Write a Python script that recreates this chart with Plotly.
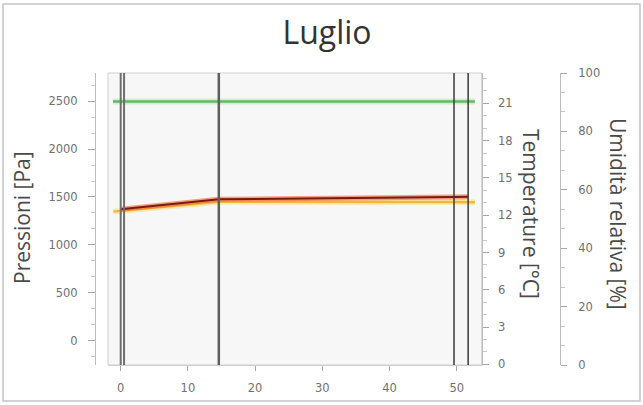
import plotly.graph_objects as go

# ---------------- data ----------------
title_text = "Luglio"
layer_bounds = [0.0, 0.5, 14.6, 49.6, 51.7]          # layer interfaces (cm)
layer_colors = ["#6e6e6e", "#6e6e6e", "#5e5e5e", "#3a3a3a", "#3a3a3a"]
layer_widths = [2, 2, 2.5, 1.5, 1.5]

green_x = [-1.15, 0.0, 14.6, 49.6, 51.7, 52.7]
green_y = [2497, 2497, 2497, 2497, 2497, 2497]       # Pa

red_x = [0.0, 14.6, 49.6, 51.7]
red_y = [1372, 1476, 1500, 1503]                     # Pa

yellow_x = [-1.1, 0.0, 14.6, 49.6, 51.7, 52.7]
yellow_y = [1347, 1354, 1451, 1447, 1446, 1445]      # Pa

x_ticks = [0, 10, 20, 30, 40, 50]
pa_ticks = [0, 500, 1000, 1500, 2000, 2500]
t_ticks = [0, 3, 6, 9, 12, 15, 18, 21]
rh_ticks = [0, 20, 40, 60, 80, 100]

# ---------------- layout geometry ----------------
W, H = 643, 405
px = lambda v: v / W
py = lambda v: 1 - v / H
xdom = [px(108), px(481.7)]
ydom = [py(365), py(73)]

FONT = "Open Sans"
TICKFONT = dict(family="DejaVu Sans", size=11.5, color="#707070")
AXCOL = "#bdbdbd"
TICKCOL = "#a8a8a8"
TITLEFONT = dict(family=FONT, size=21, color="#4a4a4a")

fig = go.Figure()

def add_line(x, y, color, width, axis="y"):
    fig.add_trace(go.Scatter(x=x, y=y, mode="lines", yaxis=axis,
                             line=dict(color=color, width=width),
                             hoverinfo="skip", showlegend=False))

# green (with soft halo)
add_line(green_x, green_y, "rgba(160,225,160,0.45)", 6)
add_line(green_x, green_y, "#62bb62", 2.5)
# yellow / orange
add_line(yellow_x, yellow_y, "rgba(255,225,130,0.6)", 6)
add_line(yellow_x, yellow_y, "#f2b540", 2.5)
# red with dark core
add_line(red_x, red_y, "rgba(240,100,50,0.6)", 5)
add_line(red_x, red_y, "#7a1a12", 2)

# invisible traces to activate secondary axes
fig.add_trace(go.Scatter(x=[None], y=[None], yaxis="y2", showlegend=False, hoverinfo="skip"))
fig.add_trace(go.Scatter(x=[None], y=[None], yaxis="y3", showlegend=False, hoverinfo="skip"))

shapes = []
# plot area background
shapes.append(dict(type="rect", xref="paper", yref="paper", x0=xdom[0], x1=xdom[1],
                   y0=ydom[0], y1=ydom[1], fillcolor="#f7f7f7",
                   line=dict(color="#cfcfcf", width=1), layer="below"))
# layer boundary lines
for b, c, w in zip(layer_bounds, layer_colors, layer_widths):
    shapes.append(dict(type="line", xref="x", yref="paper", x0=b, x1=b,
                       y0=ydom[0], y1=ydom[1], line=dict(color=c, width=w), layer="above"))
# outer border
shapes.append(dict(type="rect", xref="paper", yref="paper", x0=px(3), x1=px(640),
                   y0=py(401), y1=py(4), line=dict(color="#c4c4c4", width=1.5),
                   fillcolor="rgba(0,0,0,0)", layer="below"))

fig.update_layout(
    width=W, height=H, autosize=False,
    margin=dict(l=0, r=0, t=0, b=0),
    paper_bgcolor="white", plot_bgcolor="rgba(0,0,0,0)",
    showlegend=False,
    title=dict(text=title_text, x=px(327), y=py(33), xref="paper", yref="paper",
               xanchor="center", yanchor="middle",
               font=dict(family=FONT, size=32, color="#333333")),
    xaxis=dict(domain=xdom, range=[-1.89, 53.72], tickvals=x_ticks,
               ticks="outside", ticklen=5, tickcolor=TICKCOL, tickfont=TICKFONT,
               showline=True, linecolor="#cfcfcf", mirror=False, showgrid=False,
               zeroline=False, automargin=False, ticklabelstandoff=7),
    yaxis=dict(domain=ydom, range=[-254, 2794], tickvals=pa_ticks,
               anchor="free", position=px(95), side="left",
               ticks="outside", ticklen=7, tickcolor=TICKCOL, tickfont=TICKFONT,
               minor=dict(tickvals=[v + d for v in [-500] + pa_ticks for d in (500/3, 1000/3)],
                          ticks="outside", ticklen=4, tickcolor="#c8c8c8"),
               showline=True, linecolor=AXCOL, showgrid=False, zeroline=False,
               automargin=False, ticklabelstandoff=8),
    yaxis2=dict(overlaying="y", side="right", anchor="x", range=[-0.05, 23.44],
                tickvals=t_ticks, ticks="outside", ticklen=6, tickcolor=TICKCOL,
                tickfont=TICKFONT,
                minor=dict(dtick=1, ticks="outside", ticklen=4, tickcolor="#c8c8c8"),
                showline=True, linecolor=AXCOL, showgrid=False, zeroline=False,
                automargin=False, ticklabelstandoff=7),
    yaxis3=dict(overlaying="y", side="right", anchor="free", position=px(560),
                range=[0, 100], tickvals=rh_ticks, ticks="outside", ticklen=6,
                tickcolor=TICKCOL, tickfont=TICKFONT,
                minor=dict(dtick=20/3, ticks="outside", ticklen=4, tickcolor="#c8c8c8"),
                showline=True, linecolor=AXCOL, showgrid=False, zeroline=False,
                automargin=False, ticklabelstandoff=9),
    shapes=shapes,
    annotations=[
        dict(text="Pressioni [Pa]", xref="paper", yref="paper", x=px(22), y=py(218),
             textangle=-90, showarrow=False, xanchor="center", yanchor="middle",
             font=TITLEFONT),
        dict(text="Temperature [°C]", xref="paper", yref="paper", x=px(531), y=py(214),
             textangle=90, showarrow=False, xanchor="center", yanchor="middle",
             font=TITLEFONT),
        dict(text="Umidità relativa [%]", xref="paper", yref="paper", x=px(618), y=py(214),
             textangle=90, showarrow=False, xanchor="center", yanchor="middle",
             font=TITLEFONT),
    ],
)

fig.write_html("out.html", config={"displayModeBar": False},
               post_script="document.body.style.margin='0';document.body.style.padding='0';")
